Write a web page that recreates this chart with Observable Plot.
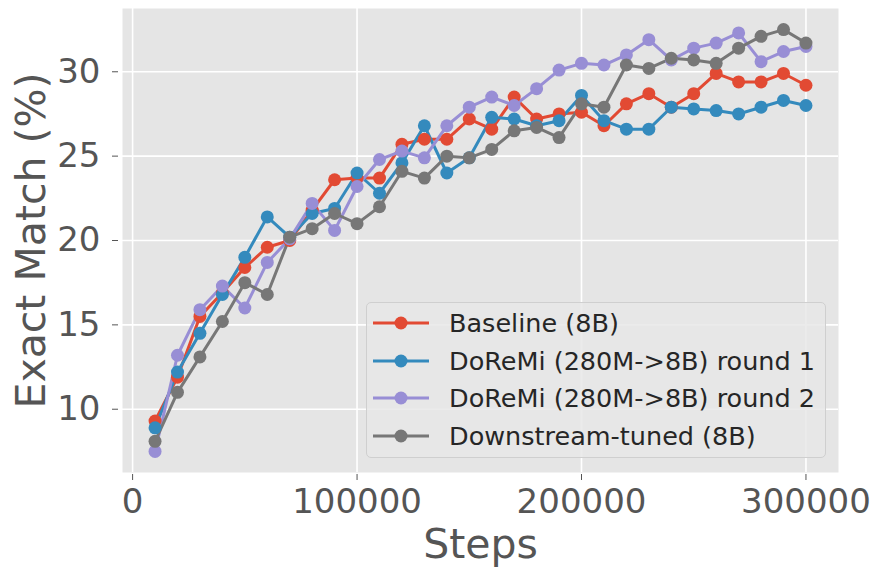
<!DOCTYPE html>
<html><head><meta charset="utf-8">
<script src="https://cdn.jsdelivr.net/npm/d3@7"></script>
<script src="https://cdn.jsdelivr.net/npm/@observablehq/plot@0.6"></script>
<style>
body{margin:0;background:#fff;font-family:"DejaVu Sans",sans-serif;}
#wrap{position:relative;width:873px;height:568px;overflow:hidden;}
#legend{position:absolute;left:366px;top:302px;width:460px;height:156px;box-sizing:border-box;background:rgba(232,232,232,0.85);border:1.5px solid #cfcfcf;border-radius:5px;}
.row{position:absolute;left:6px;height:30px;display:flex;align-items:center;}
.row span{font-size:25.5px;color:#262626;margin-left:20px;white-space:nowrap;}
</style>
</head><body>
<div id="wrap"></div>
<script>
const steps = [10000,20000,30000,40000,50000,60000,70000,80000,90000,100000,110000,120000,130000,140000,150000,160000,170000,180000,190000,200000,210000,220000,230000,240000,250000,260000,270000,280000,290000,300000];
const baseline = [9.3,11.9,15.5,16.9,18.4,19.6,20.0,21.8,23.6,23.7,23.7,25.7,26.0,26.0,27.2,26.6,28.5,27.2,27.5,27.6,26.8,28.1,28.7,27.9,28.7,29.9,29.4,29.4,29.9,29.2];
const round1 = [8.9,12.2,14.5,16.8,19.0,21.4,20.2,21.6,21.9,24.0,22.8,24.6,26.8,24.0,24.9,27.3,27.2,26.8,27.1,28.6,27.1,26.6,26.6,27.9,27.8,27.7,27.5,27.9,28.3,28.0];
const round2 = [7.5,13.2,15.9,17.3,16.0,18.7,20.1,22.2,20.6,23.2,24.8,25.3,24.9,26.8,27.9,28.5,28.0,29.0,30.1,30.5,30.4,31.0,31.9,30.7,31.4,31.7,32.3,30.6,31.2,31.5];
const tuned = [8.1,11.0,13.1,15.2,17.5,16.8,20.2,20.7,21.6,21.0,22.0,24.1,23.7,25.0,24.9,25.4,26.5,26.7,26.1,28.1,27.9,30.4,30.2,30.8,30.7,30.5,31.4,32.1,32.5,31.7];
const seriesNames = ["Baseline (8B)","DoReMi (280M->8B) round 1","DoReMi (280M->8B) round 2","Downstream-tuned (8B)"];
const seriesColors = ["#E24A33","#348ABD","#988ED5","#777777"];
const xTicks = [0,100000,200000,300000];
const yTicks = [10,15,20,25,30];

const seriesValues = [baseline, round1, round2, tuned];
const data = [];
seriesValues.forEach((vals, i) => vals.forEach((v, j) => data.push({step: steps[j], value: v, series: seriesNames[i]})));

const chart = Plot.plot({
  width: 873, height: 568,
  marginLeft: 122, marginRight: 35, marginTop: 8, marginBottom: 96,
  style: {fontFamily: "DejaVu Sans", background: "white", overflow: "visible"},
  x: {domain: [-4500, 314500], label: null},
  y: {domain: [6.25, 33.75], label: null},
  color: {domain: seriesNames, range: seriesColors},
  marks: [
    Plot.frame({fill: "#E5E5E5", stroke: null}),
    Plot.gridX(xTicks, {stroke: "white", strokeOpacity: 1, strokeWidth: 1.6}),
    Plot.gridY(yTicks, {stroke: "white", strokeOpacity: 1, strokeWidth: 1.6}),
    Plot.axisX(xTicks, {tickFormat: d3.format("d"), fontSize: 34, tickSize: 6, tickPadding: 8, dy: 2, color: "#555555", label: "Steps", labelArrow: "none", labelAnchor: "center", labelOffset: 85}),
    Plot.axisY(yTicks, {fontSize: 34, tickSize: 6, tickPadding: 12, dx: -4, color: "#555555", label: "Exact Match (%)", labelArrow: "none", labelAnchor: "center", labelOffset: 107}),
    Plot.line(data, {x: "step", y: "value", z: "series", stroke: "series", strokeWidth: 3}),
    Plot.dot(data, {x: "step", y: "value", fill: "series", r: 6.5, stroke: null})
  ]
});
document.getElementById("wrap").appendChild(chart);
chart.querySelectorAll('g[aria-label="x-axis label"] text, g[aria-label="y-axis label"] text').forEach(t => t.style.fontSize = "41px");

const legend = document.createElement("div");
legend.id = "legend";
seriesNames.forEach((name, i) => {
  const row = document.createElement("div");
  row.className = "row";
  row.style.top = (5 + i * 37.5) + "px";
  row.innerHTML = `<svg width="56" height="20"><line x1="0" y1="10" x2="56" y2="10" stroke="${seriesColors[i]}" stroke-width="3"/><circle cx="28" cy="10" r="6.5" fill="${seriesColors[i]}"/></svg><span>${name.replace(/>/g,"&gt;")}</span>`;
  legend.appendChild(row);
});
document.getElementById("wrap").appendChild(legend);
</script>
</body></html>
